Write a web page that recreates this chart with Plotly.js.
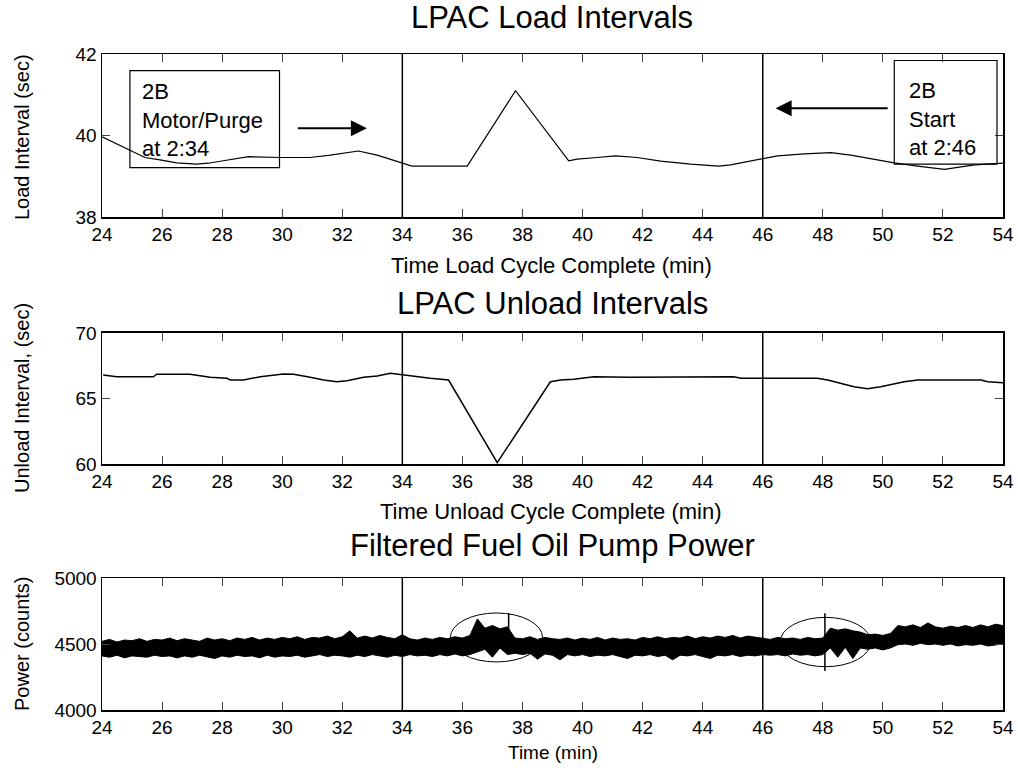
<!DOCTYPE html>
<html>
<head>
<meta charset="utf-8">
<script src="https://cdn.plot.ly/plotly-3.0.1.min.js"></script>
<style>html,body{margin:0;padding:0;background:#fff;}</style>
</head>
<body>
<div id="chart" style="width:1018px;height:771px;"></div>
<script>
// ---- Data ----
// LPAC load intervals (sec) vs time load cycle complete (min)
const loadTime = [24, 25.43, 25.93, 26.49, 27.16, 27.54, 28.04, 28.88, 29.93, 30.93, 31.6, 32.54, 33.16, 33.99, 34.32, 36.16, 37.77, 39.54, 39.82, 40.49, 41.1, 41.82, 42.6, 43.6, 44.54, 44.93, 45.88, 46.49, 47.38, 48.27, 48.93, 49.71, 50.38, 51.16, 52.05, 53.05, 54];
const loadInterval = [39.97, 39.46, 39.40, 39.33, 39.30, 39.32, 39.38, 39.48, 39.46, 39.46, 39.52, 39.62, 39.52, 39.32, 39.25, 39.25, 41.10, 39.38, 39.42, 39.46, 39.50, 39.46, 39.37, 39.30, 39.25, 39.28, 39.42, 39.50, 39.55, 39.58, 39.52, 39.42, 39.33, 39.25, 39.17, 39.28, 39.32];

// LPAC unload intervals (sec) vs time unload cycle complete (min)
const unloadTime = [24.04, 24.49, 25.71, 25.82, 26.93, 27.6, 28.16, 28.27, 28.71, 29.27, 30.04, 30.38, 30.93, 31.38, 31.82, 32.16, 32.71, 33.16, 33.6, 34.04, 34.49, 34.93, 35.54, 37.16, 38.93, 39.27, 39.71, 40.38, 41.54, 43.27, 43.38, 45.04, 45.27, 47.82, 48.16, 49.04, 49.49, 49.93, 50.71, 51.16, 53.27, 53.49, 54];
const unloadInterval = [66.79, 66.66, 66.66, 66.85, 66.85, 66.62, 66.54, 66.41, 66.41, 66.66, 66.87, 66.85, 66.62, 66.41, 66.28, 66.36, 66.62, 66.72, 66.92, 66.79, 66.66, 66.54, 66.41, 60.1, 66.28, 66.41, 66.47, 66.66, 66.62, 66.62, 66.66, 66.66, 66.54, 66.54, 66.41, 65.9, 65.75, 65.9, 66.28, 66.41, 66.41, 66.28, 66.2];

// Filtered fuel oil pump power: upper / lower envelope of the noisy band (counts), every 0.25 min from 24 to 54
const powerTimeStart = 24, powerTimeStep = 0.25;
const powerUpper = [4520,4535,4515,4530,4525,4540,4520,4535,4530,4545,4525,4540,4530,4520,4545,4530,4540,4525,4545,4535,
  4550,4530,4545,4535,4550,4540,4555,4535,4550,4545,4560,4540,4555,4600,4545,4560,4545,4565,4550,4540,
  4570,4540,4530,4545,4535,4550,4540,4555,4545,4565,4690,4620,4640,4615,4630,4545,4540,4555,4535,4550,
  4540,4535,4545,4530,4545,4535,4550,4530,4545,4535,4540,4530,4550,4540,4555,4540,4550,4545,4560,4540,
  4555,4545,4560,4550,4565,4545,4560,4550,4545,4535,4550,4540,4545,4535,4550,4540,4545,4620,4605,4615,
  4600,4590,4570,4575,4565,4580,4640,4630,4645,4625,4660,4630,4620,4635,4625,4640,4625,4645,4630,4650,4640];
const powerLower = [4410,4400,4415,4395,4410,4405,4400,4415,4405,4410,4395,4410,4400,4415,4405,4390,4410,4400,4415,4405,
  4410,4395,4415,4400,4410,4405,4415,4400,4410,4420,4405,4415,4410,4400,4415,4405,4420,4410,4400,4415,
  4405,4420,4410,4415,4405,4420,4410,4425,4410,4420,4440,4460,4400,4470,4420,4430,4420,4430,4385,4425,
  4415,4380,4420,4410,4420,4405,4415,4410,4420,4405,4390,4415,4410,4420,4405,4415,4380,4415,4410,4420,
  4405,4390,4415,4410,4420,4405,4415,4410,4420,4415,4420,4410,4425,4415,4420,4410,4420,4470,4400,4475,
  4390,4470,4460,4470,4455,4470,4495,4500,4490,4505,4495,4500,4490,4500,4485,4495,4490,4500,4485,4495,4500];
// isolated spikes in the power signal (min, top, bottom counts)
const spikeTime = [37.54, 48.07];
const spikeTop = [4735, 4733];
const spikeBottom = [4440, 4295];

// events marked with vertical lines (min)
const eventTimes = [34, 46];

// circled regions in the power plot [x0, x1, y0, y1]
const circleX0 = [35.6, 46.58], circleX1 = [38.67, 49.6];
const circleY0 = [4364, 4328], circleY1 = [4735, 4702];

// text boxes in the load plot
const boxText = ["2B<br>Motor/Purge<br>at 2:34", "2B<br>Start<br>at 2:46"];
const boxX0 = [24.93, 50.38], boxX1 = [29.91, 53.8];
const boxY0 = [39.21, 39.30], boxY1 = [41.59, 41.84];
const boxTextX = [25.27, 50.82], boxTextY = [40.38, 40.40];
// arrows: tail -> head
const arrowTailX = [30.47, 50.21], arrowHeadX = [32.82, 46.43], arrowY = [40.18, 40.67];

// ---- Build figure ----
const powerTime = powerUpper.map((_, i) => powerTimeStart + i * powerTimeStep);
const FONT = "Liberation Sans, Arial, Helvetica, sans-serif";

const spikeX = [], spikeY = [];
spikeTime.forEach((t, i) => { spikeX.push(t, t, null); spikeY.push(spikeTop[i], spikeBottom[i], null); });

const traces = [
  {x: loadTime, y: loadInterval, xaxis: 'x', yaxis: 'y', mode: 'lines', line: {color: '#000', width: 1.2}, hoverinfo: 'skip'},
  {x: unloadTime, y: unloadInterval, xaxis: 'x2', yaxis: 'y2', mode: 'lines', line: {color: '#000', width: 1.5}, hoverinfo: 'skip'},
  {x: powerTime, y: powerLower, xaxis: 'x3', yaxis: 'y3', mode: 'lines', line: {color: '#000', width: 1}, hoverinfo: 'skip'},
  {x: powerTime, y: powerUpper, xaxis: 'x3', yaxis: 'y3', mode: 'lines', fill: 'tonexty', fillcolor: '#000', line: {color: '#000', width: 1}, hoverinfo: 'skip'},
  {x: spikeX, y: spikeY, xaxis: 'x3', yaxis: 'y3', mode: 'lines', line: {color: '#000', width: 1.5}, hoverinfo: 'skip'}
];

function xax(anchor) {
  return {anchor: anchor, range: [24, 54], dtick: 2, tick0: 24, ticks: 'inside', ticklen: 8, tickwidth: 1,
    showline: true, linecolor: '#000', linewidth: 1.5, mirror: 'ticks', showgrid: false, zeroline: false,
    tickfont: {family: FONT, size: 19, color: '#000'}, fixedrange: true};
}
function yax(anchor, domain, range, dtick) {
  return {anchor: anchor, domain: domain, range: range, dtick: dtick, tick0: range[0], ticks: 'inside', ticklen: 8, tickwidth: 1,
    showline: true, linecolor: '#000', linewidth: 1.5, mirror: 'ticks', showgrid: false, zeroline: false,
    tickfont: {family: FONT, size: 19, color: '#000'}, fixedrange: true};
}

const shapes = [];
['x', 'x2', 'x3'].forEach((xr, k) => {
  const yr = ['y', 'y2', 'y3'][k];
  eventTimes.forEach(t => shapes.push({type: 'line', xref: xr, yref: yr + ' domain', x0: t, x1: t, y0: 0, y1: 1, line: {color: '#000', width: 1.5}}));
});
circleX0.forEach((_, i) => shapes.push({type: 'circle', xref: 'x3', yref: 'y3', x0: circleX0[i], x1: circleX1[i], y0: circleY0[i], y1: circleY1[i], line: {color: '#000', width: 1}}));
boxX0.forEach((_, i) => shapes.push({type: 'rect', xref: 'x', yref: 'y', x0: boxX0[i], x1: boxX1[i], y0: boxY0[i], y1: boxY1[i], line: {color: '#000', width: 1.2}}));

function pap(py) { return (710 - py) / 656; }
function pax(px) { return (px - 102) / 901; }

const annotations = [];
function txt(text, px, py, size, angle) {
  annotations.push({text: text, xref: 'paper', yref: 'paper', x: pax(px), y: pap(py), xanchor: 'center', yanchor: 'middle',
    showarrow: false, textangle: angle || 0, font: {family: FONT, size: size, color: '#000'}});
}
txt('LPAC Load Intervals', 552, 18, 31);
txt('LPAC Unload Intervals', 552, 303, 31);
txt('Filtered Fuel Oil Pump Power', 552, 545, 31);
txt('Time Load Cycle Complete (min)', 551, 265, 22);
txt('Time Unload Cycle Complete (min)', 551, 511, 22);
txt('Time (min)', 553, 752, 19);
txt('Load Interval (sec)', 22, 137, 20, -90);
txt('Unload Interval, (sec)', 22, 398, 20, -90);
txt('Power (counts)', 22, 644, 20, -90);

boxText.forEach((t, i) => annotations.push({text: t, xref: 'x', yref: 'y', x: boxTextX[i], y: boxTextY[i], xanchor: 'left', yanchor: 'middle',
  align: 'left', showarrow: false, font: {family: FONT, size: 22, color: '#000'}}));
arrowHeadX.forEach((hx, i) => annotations.push({text: '', xref: 'x', yref: 'y', x: hx, y: arrowY[i], axref: 'x', ayref: 'y',
  ax: arrowTailX[i], ay: arrowY[i], showarrow: true, arrowhead: 2, arrowsize: 1.6, arrowwidth: 2, arrowcolor: '#000'}));

const layout = {
  width: 1018, height: 771,
  margin: {l: 102, r: 15, t: 54, b: 61},
  paper_bgcolor: '#fff', plot_bgcolor: '#fff',
  showlegend: false,
  font: {family: FONT, color: '#000'},
  xaxis: xax('y'), yaxis: yax('x', [0.7515, 1], [38, 42], 2),
  xaxis2: xax('y2'), yaxis2: yax('x2', [0.375, 0.5747], [60, 70], 5),
  xaxis3: xax('y3'), yaxis3: yax('x3', [0, 0.2012], [4000, 5000], 500),
  shapes: shapes,
  annotations: annotations
};

Plotly.newPlot('chart', traces, layout, {staticPlot: true, displayModeBar: false});
</script>
</body>
</html>
